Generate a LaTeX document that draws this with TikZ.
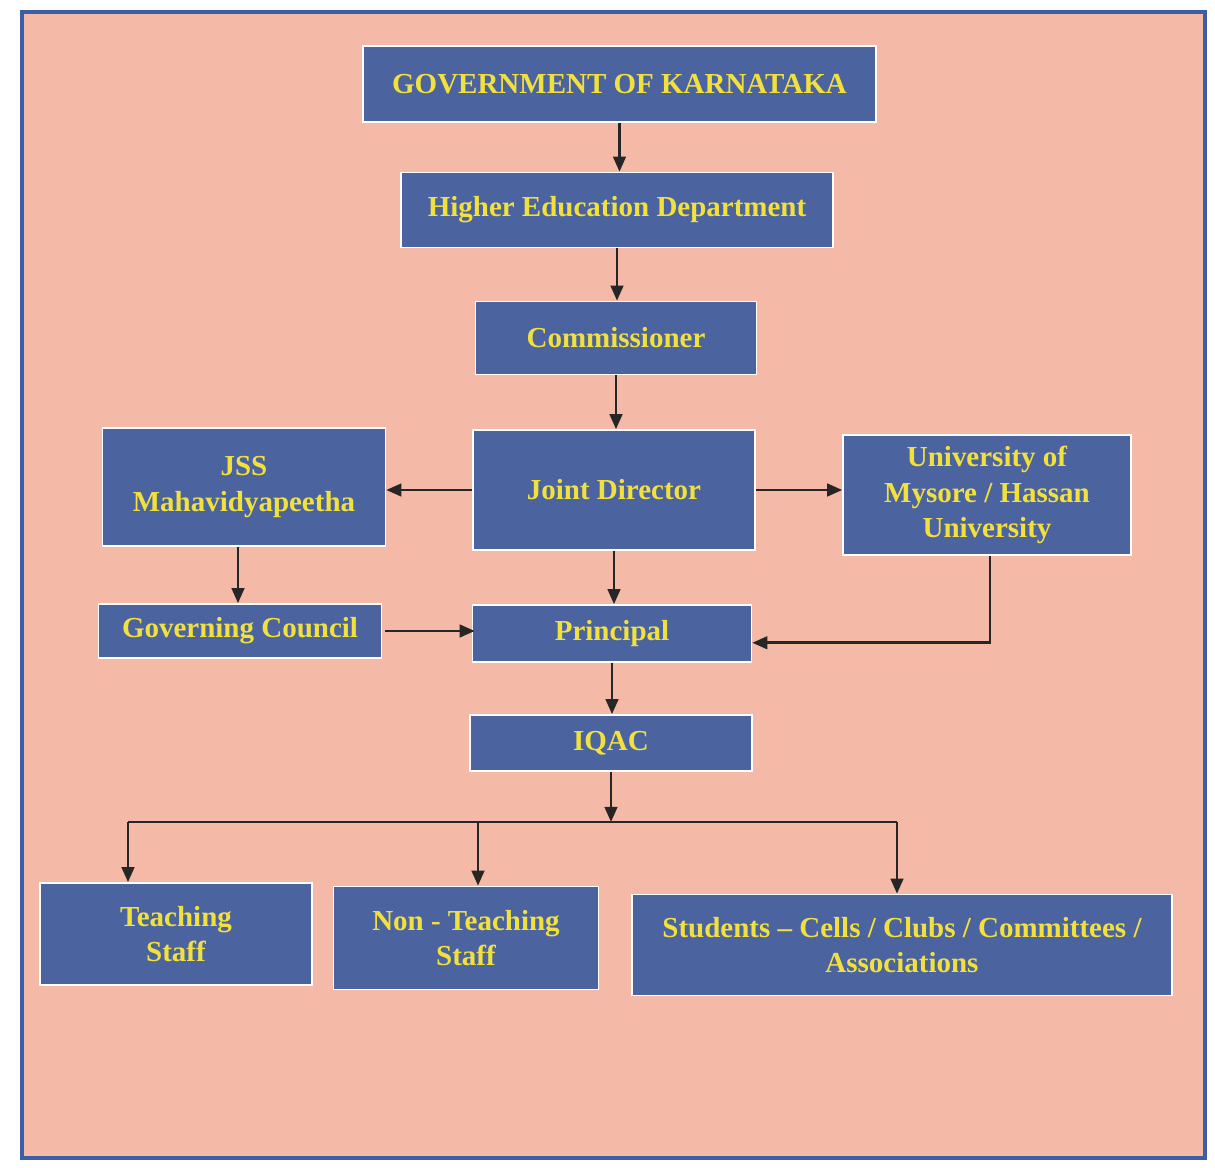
\documentclass[tikz,border=0pt]{standalone}
\usepackage{fontspec}
\setmainfont{Liberation Serif}
\usetikzlibrary{arrows.meta,calc}
\definecolor{bgpink}{HTML}{F5B9A8}
\definecolor{boxblue}{HTML}{4B64A0}
\definecolor{frameblue}{HTML}{3A5FA8}
\definecolor{txtyellow}{HTML}{F2E03C}
\tikzset{
  orgbox/.style={draw=white, line width=0.9pt, fill=boxblue, text=txtyellow,
    font=\fontsize{16.5}{20}\selectfont\bfseries, align=center, inner sep=0pt},
  arr/.style={draw=black!85, line width=1.5pt, -{Triangle[length=0.3cm,width=0.25cm]}},
  conn/.style={draw=black!85, line width=1.5pt}
}
\begin{document}
\begin{tikzpicture}[x=0.02cm,y=-0.02cm]
\useasboundingbox (0,0) rectangle (1215,1168);
\fill[white] (0,0) rectangle (1215,1168);
\draw[frameblue, line width=2pt, fill=bgpink] (22,12) rectangle (1205,1158);

\node[orgbox, minimum width=10.26cm, minimum height=1.52cm] (gov) at (619.5,84) {GOVERNMENT OF KARNATAKA};
\node[orgbox, minimum width=8.64cm, minimum height=1.5cm] (hed) at (617,210) {Higher Education Department};
\node[orgbox, minimum width=5.62cm, minimum height=1.46cm] (com) at (616,338) {Commissioner};
\node[orgbox, minimum width=5.64cm, minimum height=2.4cm] (jd) at (614,490) {Joint Director};
\node[orgbox, minimum width=5.66cm, minimum height=2.36cm] (jss) at (244,487) {JSS\\Mahavidyapeetha};
\node[orgbox, minimum width=5.76cm, minimum height=2.4cm] (uni) at (987,495) {University of\\Mysore / Hassan\\University};
\node[orgbox, minimum width=5.66cm, minimum height=1.08cm] (gc) at (240,631) {Governing Council};
\node[orgbox, minimum width=5.58cm, minimum height=1.14cm] (pri) at (612,633.5) {Principal};
\node[orgbox, minimum width=5.64cm, minimum height=1.12cm] (iqac) at (611,743) {IQAC};
\node[orgbox, minimum width=5.44cm, minimum height=2.04cm] (tea) at (176,934) {Teaching\\Staff};
\node[orgbox, minimum width=5.3cm, minimum height=2.06cm] (non) at (466,938) {Non - Teaching\\Staff};
\node[orgbox, minimum width=10.8cm, minimum height=2.02cm] (stu) at (902,945) {Students -- Cells / Clubs / Committees /\\Associations};

\draw[arr] (gov.south) -- (gov.south |- hed.north);
\draw[arr] (hed.south) -- (hed.south |- com.north);
\draw[arr] (com.south) -- (com.south |- jd.north);
\draw[arr] (jd.west) -- (jd.west -| jss.east);
\draw[arr] (jd.east) -- (jd.east -| uni.west);
\draw[arr] ([xshift=-0.12cm]jss.south) -- ([xshift=-0.12cm]jss.south |- gc.north);
\draw[arr] (jd.south) -- (jd.south |- pri.north);
\draw[arr] ([xshift=0.06cm]gc.east) -- ([xshift=0.06cm]gc.east -| pri.west);
\coordinate (ucorner) at ($(uni.south)+(3,87)$);
\draw[arr] ($(uni.south)+(3,0)$) -- (ucorner) -- (ucorner -| pri.east);
\draw[arr] (pri.south) -- (pri.south |- iqac.north);

\coordinate (hub) at (611,822);
\coordinate (tl) at (128,822);
\coordinate (tm) at (478,822);
\coordinate (tr) at (897,822);
\draw[arr] (iqac.south) -- (hub);
\draw[conn] (tl) -- (tr);
\draw[arr] (tl) -- (tl |- tea.north);
\draw[arr] (tm) -- (tm |- non.north);
\draw[arr] (tr) -- (tr |- stu.north);
\end{tikzpicture}
\end{document}
